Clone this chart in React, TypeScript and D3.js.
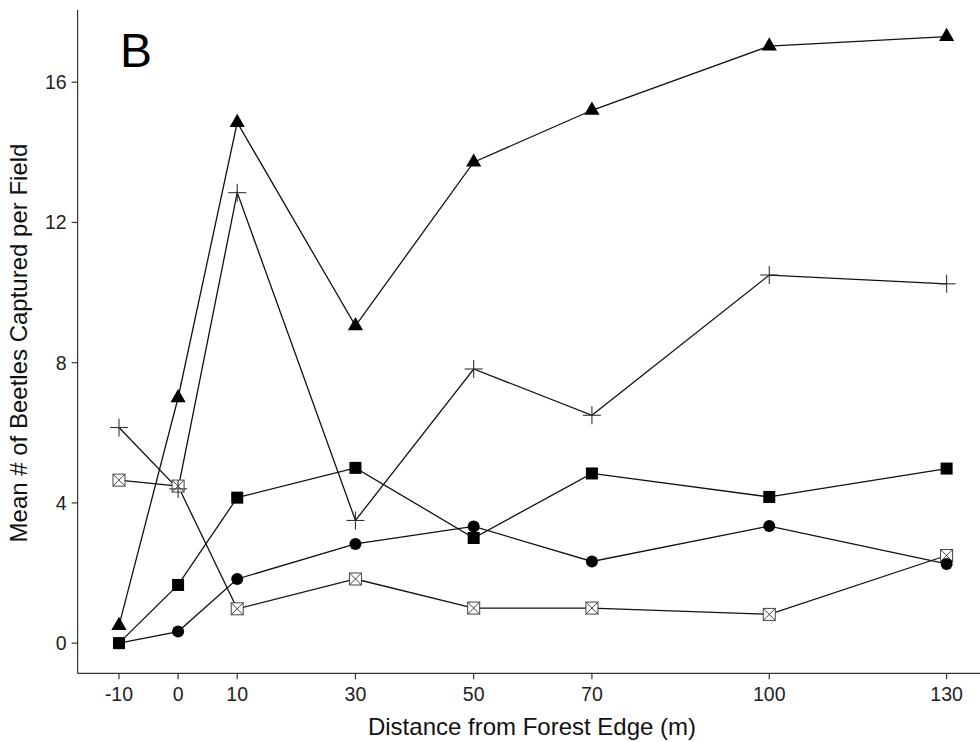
import React from 'react';
import * as d3 from 'd3';

// distances from forest edge (m)
const distances = [-10, 0, 10, 30, 50, 70, 100, 130];

// mean beetles captured per field, one array per group
const triangleVals = [0.5, 7.0, 14.85, 9.05, 13.72, 15.2, 17.03, 17.3];
const plusVals = [6.15, 4.4, 12.85, 3.5, 7.82, 6.5, 10.5, 10.25];
const squareVals = [0, 1.66, 4.15, 5.0, 3.0, 4.84, 4.17, 4.98];
const circleVals = [0, 0.33, 1.83, 2.83, 3.33, 2.33, 3.34, 2.26];
const boxXVals = [4.65, 4.48, 0.98, 1.83, 1.0, 1.0, 0.82, 2.5];

const yTicks = [0, 4, 8, 12, 16];

const width = 980;
const height = 742;
const left = 77.6;
const right = 988;
const top = 10;
const bottom = 673.3;

const font = '"Liberation Sans", Arial, sans-serif';

export default function App() {
  const x = d3.scaleLinear().domain([-17, 137]).range([left, right]);
  const y = d3.scaleLinear().domain([-0.86, 18.06]).range([bottom, top]);

  const line = d3.line<number>()
    .x((d, i) => x(distances[i]))
    .y(d => y(d));

  const tri = d3.symbol().type(d3.symbolTriangle).size(100)();

  const series = [
    { key: 'box', vals: boxXVals },
    { key: 'circle', vals: circleVals },
    { key: 'square', vals: squareVals },
    { key: 'plus', vals: plusVals },
    { key: 'tri', vals: triangleVals },
  ];

  const marker = (key: string, v: number, i: number) => {
    const cx = x(distances[i]);
    const cy = y(v);
    const k = `${key}-${i}`;
    if (key === 'tri') {
      return <path key={k} d={tri} transform={`translate(${cx},${cy})`} fill="#000" />;
    }
    if (key === 'square') {
      return <rect key={k} x={cx - 6} y={cy - 6} width={12} height={12} fill="#000" />;
    }
    if (key === 'circle') {
      return <circle key={k} cx={cx} cy={cy} r={6} fill="#000" />;
    }
    if (key === 'plus') {
      return (
        <g key={k} stroke="#333" strokeWidth={1.1}>
          <line x1={cx - 9} x2={cx + 9} y1={cy} y2={cy} />
          <line x1={cx} x2={cx} y1={cy - 9} y2={cy + 9} />
        </g>
      );
    }
    // open square with an X
    return (
      <g key={k} stroke="#444" strokeWidth={1} fill="#fff">
        <rect x={cx - 6} y={cy - 6} width={12} height={12} />
        <line x1={cx - 6} x2={cx + 6} y1={cy - 6} y2={cy + 6} />
        <line x1={cx - 6} x2={cx + 6} y1={cy + 6} y2={cy - 6} />
      </g>
    );
  };

  return (
    <svg width={width} height={height} style={{ display: 'block', position: 'absolute', left: 0, top: 0 }}>
      <rect width={width} height={height} fill="#fff" />

      {/* lines */}
      {series.map(s => (
        <path key={s.key} d={line(s.vals) || ''} fill="none" stroke="#111" strokeWidth={1.3} />
      ))}

      {/* points */}
      {series.map(s => s.vals.map((v, i) => marker(s.key, v, i)))}

      {/* axes */}
      <line x1={left} x2={left} y1={top} y2={bottom} stroke="#333" strokeWidth={1.2} />
      <line x1={left} x2={right} y1={bottom} y2={bottom} stroke="#333" strokeWidth={1.2} />

      {yTicks.map(t => (
        <g key={`y${t}`}>
          <line x1={left - 6} x2={left} y1={y(t)} y2={y(t)} stroke="#333" strokeWidth={1.2} />
          <text x={left - 11} y={y(t)} dy="0.36em" textAnchor="end" fontSize={19.5} fontFamily={font} fill="#222">
            {t}
          </text>
        </g>
      ))}

      {distances.map(d => (
        <g key={`x${d}`}>
          <line x1={x(d)} x2={x(d)} y1={bottom} y2={bottom + 6} stroke="#333" strokeWidth={1.2} />
          <text x={x(d)} y={700.5} textAnchor="middle" fontSize={19.5} fontFamily={font} fill="#222">
            {d}
          </text>
        </g>
      ))}

      <text x={532} y={735} textAnchor="middle" fontSize={24} fontFamily={font} fill="#111">
        Distance from Forest Edge (m)
      </text>
      <text
        transform={`translate(27,343) rotate(-90)`}
        textAnchor="middle"
        fontSize={24}
        fontFamily={font}
        fill="#111"
      >
        Mean # of Beetles Captured per Field
      </text>

      <text x={120} y={67} fontSize={48} fontFamily={font} fill="#000">B</text>
    </svg>
  );
}
